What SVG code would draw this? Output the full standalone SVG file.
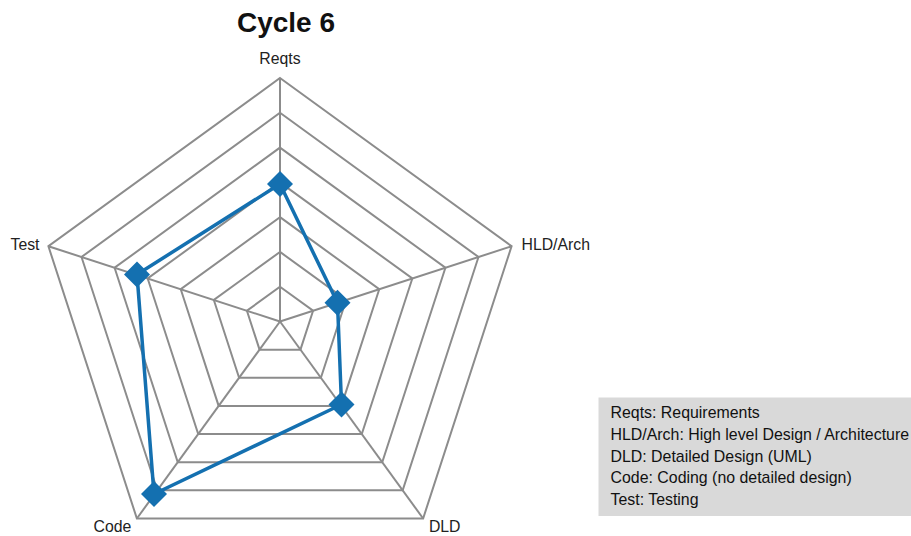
<svg xmlns="http://www.w3.org/2000/svg" width="911" height="536" viewBox="0 0 911 536">
<style>
.grid{fill:none;stroke:#8c8c8c;stroke-width:2;stroke-linejoin:miter}
.spoke{stroke:#8c8c8c;stroke-width:2}
.data{fill:none;stroke:#1470b0;stroke-width:3.5;stroke-linejoin:round}
.mk{fill:#1470b0}
.lbl{font-family:"Liberation Sans",Arial,sans-serif;font-size:15.8px;fill:#222}
.leg{font-family:"Liberation Sans",Arial,sans-serif;font-size:15.9px;fill:#111}
.title{font-family:"Liberation Sans",Arial,sans-serif;font-size:28px;font-weight:bold;fill:#111}
</style>
<defs>
<path id="dia" d="M0,-13 L13,0 L0,13 L-13,0 Z"/>
</defs>
<rect width="911" height="536" fill="#fff"/>
<text class="title" x="286" y="32" text-anchor="middle">Cycle 6</text>
<g id="grid">
<polygon class="grid" points="280,286.714 313.083,310.75 300.447,349.643 259.553,349.643 246.917,310.75"/>
<polygon class="grid" points="280,251.929 346.166,300 320.894,377.786 239.106,377.786 213.834,300"/>
<polygon class="grid" points="280,217.143 379.249,289.25 341.341,405.929 218.659,405.929 180.751,289.25"/>
<polygon class="grid" points="280,182.357 412.332,278.5 361.788,434.072 198.212,434.072 147.668,278.5"/>
<polygon class="grid" points="280,147.571 445.415,267.75 382.235,462.215 177.765,462.215 114.585,267.75"/>
<polygon class="grid" points="280,112.786 478.498,257 402.682,490.358 157.318,490.358 81.502,257"/>
<polygon class="grid" points="280,78 511.58,246.254 423.127,518.496 136.873,518.496 48.42,246.254"/>
<line class="spoke" x1="280" y1="321.5" x2="280" y2="78"/>
<line class="spoke" x1="280" y1="321.5" x2="511.58" y2="246.254"/>
<line class="spoke" x1="280" y1="321.5" x2="423.127" y2="518.496"/>
<line class="spoke" x1="280" y1="321.5" x2="136.873" y2="518.496"/>
<line class="spoke" x1="280" y1="321.5" x2="48.42" y2="246.254"/>
</g>
<g id="axis-labels">
<text id="lbl-reqts" class="lbl" x="280" y="63.5" text-anchor="middle">Reqts</text>
<text id="lbl-hld" class="lbl" x="521.5" y="249.5">HLD/Arch</text>
<text id="lbl-dld" class="lbl" x="444.7" y="531.5" text-anchor="middle">DLD</text>
<text id="lbl-code" class="lbl" x="112.5" y="531.5" text-anchor="middle">Code</text>
<text id="lbl-test" class="lbl" x="39.5" y="249.5" text-anchor="end">Test</text>
</g>
<g id="connectors">
<polygon class="data" points="280,184 337.5,302.8 341.5,404.5 154,494 137,274.5"/>
</g>
<g id="node-reqts"><use href="#dia" class="mk" x="280" y="184"/></g>
<g id="node-hld"><use href="#dia" class="mk" x="337.5" y="302.8"/></g>
<g id="node-dld"><use href="#dia" class="mk" x="341.5" y="404.5"/></g>
<g id="node-code"><use href="#dia" class="mk" x="154" y="494"/></g>
<g id="node-test"><use href="#dia" class="mk" x="137" y="274.5"/></g>
<g id="legend">
<rect x="598.5" y="397.5" width="312.5" height="118.5" fill="#d9d9d9"/>
<text class="leg" x="610.5" y="418.3">Reqts: Requirements</text>
<text class="leg" x="610.5" y="440">HLD/Arch: High level Design / Architecture</text>
<text class="leg" x="610.5" y="461.7">DLD: Detailed Design (UML)</text>
<text class="leg" x="610.5" y="483.3">Code: Coding (no detailed design)</text>
<text class="leg" x="610.5" y="505">Test: Testing</text>
</g>
</svg>
